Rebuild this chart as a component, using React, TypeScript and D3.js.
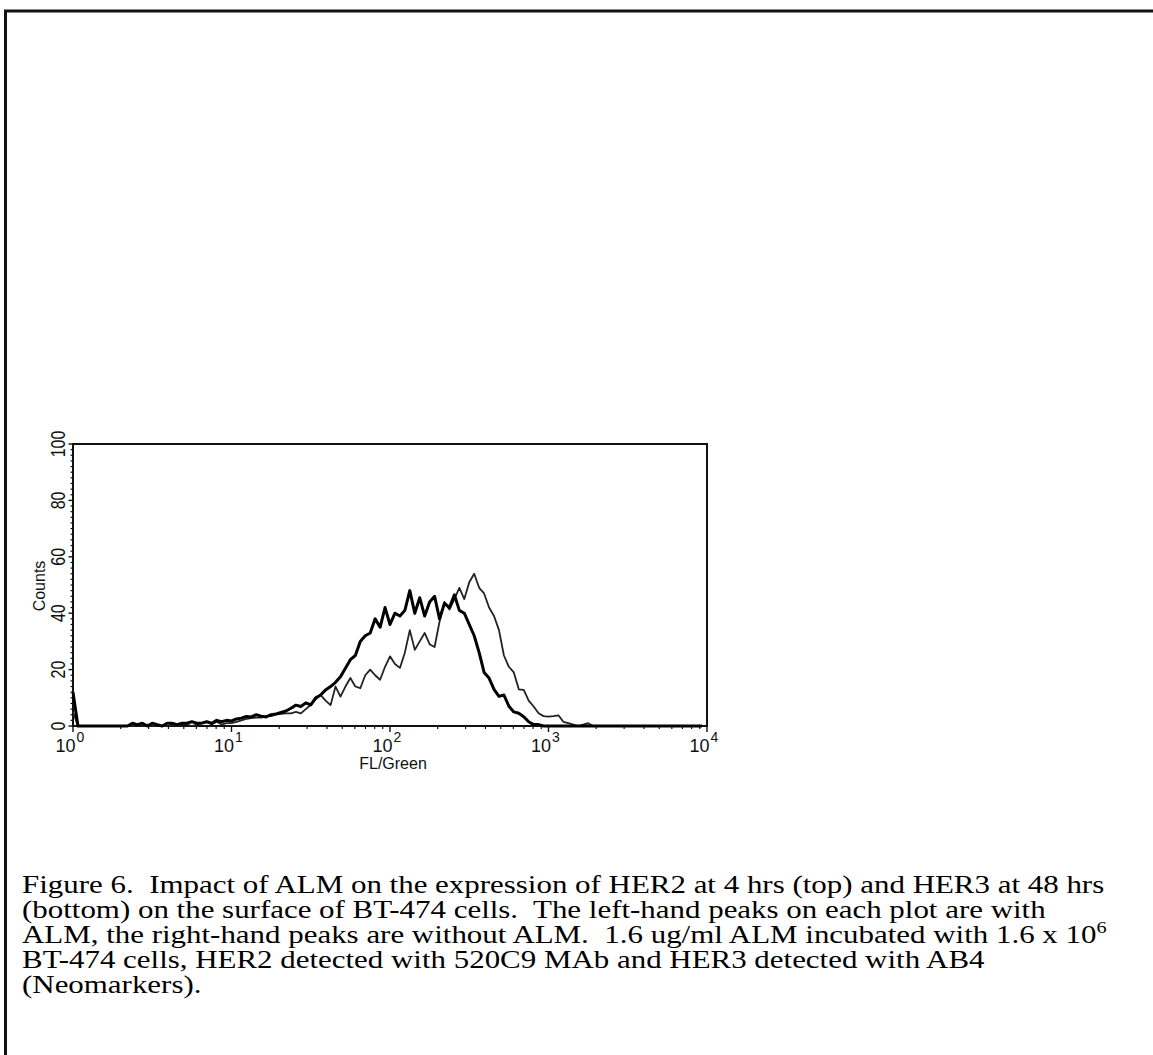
import React from 'react';
import * as d3 from 'd3';

// FL/Green channel (256 channels per decade), sampled every 8 channels
const channels = [
  0, 8, 16, 24, 32, 40, 48, 56, 64, 72, 80, 88, 96, 104, 112, 120,
  128, 136, 144, 152, 160, 168, 176, 184, 192, 200, 208, 216, 224, 232, 240, 248,
  256, 264, 272, 280, 288, 296, 304, 312, 320, 328, 336, 344, 352, 360, 368, 376,
  384, 392, 400, 408, 416, 424, 432, 440, 448, 456, 464, 472, 480, 488, 496, 504,
  512, 520, 528, 536, 544, 552, 560, 568, 576, 584, 592, 600, 608, 616, 624, 632,
  640, 648, 656, 664, 672, 680, 688, 696, 704, 712, 720, 728, 736, 744, 752, 760,
  768, 776, 784, 792, 800, 808, 816, 824, 832, 840, 848, 856, 864, 872, 880, 888,
  896, 904, 912, 920, 928, 936, 944, 952, 960, 968, 976, 984, 992, 1000, 1008, 1016,
];

// left-hand peak (with ALM), heavy trace
const withALM = [
  12, 0, 0, 0, 0, 0, 0, 0, 0, 0, 0, 0, 1, 0.5, 1, 0,
  1, 0.5, 0, 1, 1, 0.5, 1, 1, 1.5, 1, 1, 1.5, 1, 2, 1.5, 2,
  1.8, 2.5, 2.8, 3.4, 3.2, 4, 3.5, 3.2, 4, 4.3, 4.8, 5.3, 6.3, 7.4, 6.9, 8.2,
  7.5, 10, 11, 12.8, 14, 15.5, 17.5, 20.5, 23.5, 25, 30, 32, 33, 38, 35, 42,
  36, 40, 39, 41, 48, 40, 45.5, 39, 44, 46, 38, 43.5, 42, 46.5, 41, 40,
  36, 32, 26, 19, 17, 13, 10.5, 11, 7, 5, 4.5, 3.3, 1.5, 0.5, 0.5, 0,
  0, 0, 0, 0, 0, 0, 0, 0, 0, 0, 0, 0, 0, 0, 0, 0,
  0, 0, 0, 0, 0, 0, 0, 0, 0, 0, 0, 0, 0, 0, 0, 0,
];

// right-hand peak (without ALM), light trace
const withoutALM = [
  5, 0, 0, 0, 0, 0, 0, 0, 0, 0, 0, 0, 0, 0.5, 0, 0.5,
  0, 0.5, 0, 0, 0.5, 0, 0.5, 0.5, 0, 0.5, 1, 1.5, 0.5, 1.5, 0.5, 1,
  1, 1.5, 2, 2.5, 2.8, 3, 3, 3.5, 3.5, 4, 4.3, 4.5, 4.5, 5, 4.5, 6,
  7.5, 9.5, 11, 9, 7.4, 14, 10.4, 14, 17, 14, 13.4, 18, 20, 18, 16.4, 21,
  24.7, 22, 20.6, 26, 34, 27, 30, 33, 29, 28, 37, 44, 41.3, 45, 49, 45,
  51, 54, 49, 47, 42, 39, 34, 25, 21, 19, 13, 12.8, 9, 6.9, 4.5, 3.5,
  3.3, 3.5, 3.8, 1.5, 1, 0.5, 0, 0.5, 1, 0, 0, 0, 0, 0, 0, 0,
  0, 0, 0, 0, 0, 0, 0, 0, 0, 0, 0, 0, 0, 0, 0, 0,
];

const countTicks = [0, 20, 40, 60, 80, 100];
const decadeTicks = [1, 10, 100, 1000, 10000];
const decadeExponents = ['0', '1', '2', '3', '4'];

const captionLines = [
  'Figure 6.  Impact of ALM on the expression of HER2 at 4 hrs (top) and HER3 at 48 hrs',
  '(bottom) on the surface of BT-474 cells.  The left-hand peaks on each plot are with',
  'ALM, the right-hand peaks are without ALM.  1.6 ug/ml ALM incubated with 1.6 x 10',
  'BT-474 cells, HER2 detected with 520C9 MAb and HER3 detected with AB4',
  '(Neomarkers).',
];

const W = 1153;
const H = 1055;

export default function App() {
  const margin = { left: 73, right: 707, top: 444, bottom: 726 };

  const x = d3.scaleLog().domain([1, 10000]).range([margin.left, margin.right]);
  const y = d3.scaleLinear().domain([0, 100]).range([margin.bottom, margin.top]);

  const fl = (ch: number) => Math.pow(10, ch / 256);

  const trace = d3
    .line<number>()
    .x((_, i) => x(fl(channels[i])))
    .y(d => y(d));

  // log minor ticks 2..9 in each decade
  const minorX: number[] = [];
  [1, 10, 100, 1000].forEach(d => {
    for (let m = 2; m <= 9; m++) minorX.push(d * m);
  });
  const minorY = d3.range(0, 101, 2).filter(v => v % 20 !== 0);

  const sans = '"Liberation Sans", Arial, sans-serif';
  const serif = '"Liberation Serif", "Times New Roman", serif';
  const capScale = 1.19;

  return (
    <div style={{ position: 'absolute', left: 0, top: 0, width: W, height: H, background: '#fff' }}>
      <svg width={W} height={H} style={{ display: 'block' }}>
        <rect width={W} height={H} fill="#fff" />

        {/* page frame */}
        <line x1={4} x2={W} y1={11} y2={11} stroke="#111" strokeWidth={3} />
        <line x1={5.5} x2={5.5} y1={10} y2={H} stroke="#111" strokeWidth={3} />

        {/* plot frame */}
        <rect
          x={margin.left}
          y={margin.top}
          width={margin.right - margin.left}
          height={margin.bottom - margin.top}
          fill="none"
          stroke="#111"
          strokeWidth={2}
        />

        {/* y ticks */}
        {minorY.map(v => (
          <line key={'my' + v} x1={margin.left - 2.5} x2={margin.left} y1={y(v)} y2={y(v)} stroke="#111" strokeWidth={1.2} />
        ))}
        {countTicks.map(v => (
          <line key={'y' + v} x1={margin.left - 4.5} x2={margin.left} y1={y(v)} y2={y(v)} stroke="#111" strokeWidth={1.4} />
        ))}
        {countTicks.map(v => (
          <text
            key={'yl' + v}
            transform={`translate(65,${y(v)}) rotate(-90) scale(0.8,1)`}
            textAnchor="middle"
            fontFamily={sans}
            fontSize={20}
            fill="#111"
          >
            {v}
          </text>
        ))}
        <text
          transform="translate(45,586) rotate(-90)"
          textAnchor="middle"
          fontFamily={sans}
          fontSize={16}
          fill="#111"
        >
          Counts
        </text>

        {/* x ticks */}
        {minorX.map(v => (
          <line key={'mx' + v} x1={x(v)} x2={x(v)} y1={margin.bottom} y2={margin.bottom + 3} stroke="#111" strokeWidth={1.2} />
        ))}
        {decadeTicks.map(v => (
          <line key={'x' + v} x1={x(v)} x2={x(v)} y1={margin.bottom} y2={margin.bottom + 6} stroke="#111" strokeWidth={1.4} />
        ))}
        {decadeTicks.map((v, i) => (
          <text key={'xl' + v} x={x(v) - 3} y={752} textAnchor="middle" fontFamily={sans} fontSize={18} fill="#111">
            10
            <tspan dy={-10} dx={1} fontSize={14}>
              {decadeExponents[i]}
            </tspan>
          </text>
        ))}
        <text x={393} y={769} textAnchor="middle" fontFamily={sans} fontSize={16} fill="#111">
          FL/Green
        </text>

        {/* histograms */}
        <path d={trace(withoutALM) || ''} fill="none" stroke="#222" strokeWidth={1.8} strokeLinejoin="round" />
        <path d={trace(withALM) || ''} fill="none" stroke="#000" strokeWidth={3} strokeLinejoin="round" />

        {/* caption */}
        <g fontFamily={serif} fontSize={26} fill="#000" transform={`translate(22,0) scale(${capScale},1)`}>
          {captionLines.map((t, i) => (
            <text key={'c' + i} x={0} y={893 + i * 25} xmlSpace="preserve">
              {t}
              {i === 2 && (
                <tspan dy={-10} fontSize={17}>
                  6
                </tspan>
              )}
            </text>
          ))}
        </g>
      </svg>
    </div>
  );
}
